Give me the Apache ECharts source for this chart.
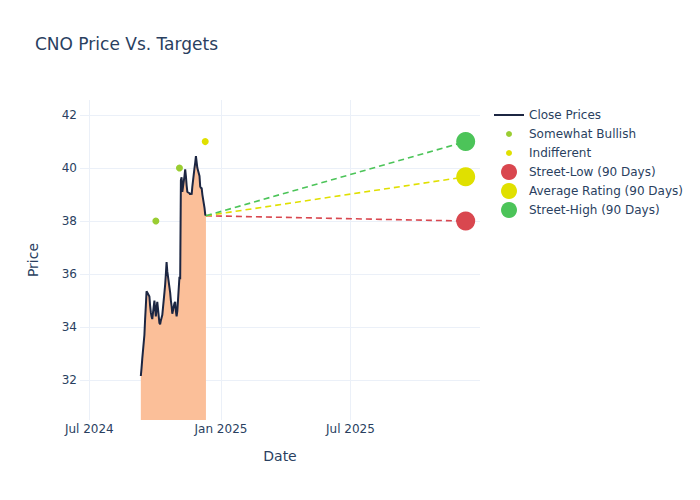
<!DOCTYPE html>
<html>
<head>
<meta charset="utf-8">
<script src="https://cdn.jsdelivr.net/npm/echarts@6/dist/echarts.min.js"></script>
<style>
html,body{margin:0;padding:0;background:#fff;}
#chart{width:700px;height:500px;}
</style>
</head>
<body>
<div id="chart"></div>
<script>
// ---- data ----
const dates = ['2024-09-11','2024-09-12','2024-09-13','2024-09-16','2024-09-17','2024-09-18','2024-09-19','2024-09-20','2024-09-23','2024-09-24','2024-09-25','2024-09-26','2024-09-27','2024-09-30',
'2024-10-01','2024-10-02','2024-10-03','2024-10-04','2024-10-07','2024-10-08','2024-10-09','2024-10-10','2024-10-11','2024-10-14','2024-10-15','2024-10-16','2024-10-17','2024-10-18','2024-10-21','2024-10-22','2024-10-23','2024-10-24','2024-10-25','2024-10-28','2024-10-29','2024-10-30','2024-10-31',
'2024-11-01','2024-11-04','2024-11-05','2024-11-06','2024-11-07','2024-11-08','2024-11-11','2024-11-12','2024-11-13','2024-11-14','2024-11-15','2024-11-18','2024-11-19','2024-11-20','2024-11-21','2024-11-22','2024-11-25','2024-11-26','2024-11-27','2024-11-29',
'2024-12-02','2024-12-03','2024-12-04','2024-12-05','2024-12-06','2024-12-09','2024-12-10','2024-12-11'];
const closes = [32.15,32.45,32.8,33.7,34.3,34.8,35.35,35.3,35.15,34.8,34.55,34.4,34.3,35.0,
34.7,34.4,34.7,34.95,34.15,34.1,34.25,34.35,34.45,35.3,35.6,36.0,36.45,36.1,35.5,35.3,35.0,34.8,34.5,34.9,34.95,34.6,34.4,
34.6,35.9,35.8,39.55,39.65,39.1,39.7,39.95,39.7,39.35,39.1,39.05,39.0,39.05,39.0,39.3,40.0,40.2,40.45,40.0,
39.7,39.3,39.25,39.25,39.0,38.5,38.25,38.2];

const bullishDates = ['2024-10-02','2024-11-04'];
const bullishValues = [38, 40];
const indifferentDates = ['2024-12-10'];
const indifferentValues = [41];

const targetDate = '2025-12-09';
const streetLow = 38;
const averageRating = 39.67;
const streetHigh = 41;

const xTickDates = ['2024-07-01','2025-01-01','2025-07-01'];
const yTicks = [32,34,36,38,40,42];
const xMin = '2024-06-18', xMax = '2025-12-29';
const yMin = 30.49, yMax = 42.57;

// ---- chart ----
const FONT = 'DejaVu Sans';
const TXT = '#2a3f5f';
const GRID = '#ebf0f8';
const months = ['Jan','Feb','Mar','Apr','May','Jun','Jul','Aug','Sep','Oct','Nov','Dec'];
const ts = s => { const p = s.split('-').map(Number); return Date.UTC(p[0], p[1]-1, p[2]); };

const lastDate = dates[dates.length-1];
const lastClose = closes[closes.length-1];

function targetSeries(name, value, color) {
  return {
    name: name, type: 'line',
    data: [
      {value: [ts(lastDate), lastClose], symbol: 'none'},
      {value: [ts(targetDate), value], symbol: 'circle', symbolSize: 19}
    ],
    showSymbol: true,
    lineStyle: {color: color, width: 1.6, type: [6, 4]},
    itemStyle: {color: color},
    z: 3, animation: false, silent: true
  };
}

const legendBase = {orient: 'vertical', padding: 0, itemGap: 0,
  textStyle: {fontFamily: FONT, fontSize: 12, color: TXT}, selectedMode: false};

const option = {
  animation: false,
  backgroundColor: '#fff',
  title: {text: 'CNO Price Vs. Targets', left: 35, top: 35, padding: 0,
    textStyle: {fontFamily: FONT, fontSize: 17, fontWeight: 'normal', color: TXT}},
  grid: {left: 80, right: 220, top: 100, bottom: 80, containLabel: false},
  xAxis: {
    type: 'value', min: ts(xMin), max: ts(xMax),
    name: 'Date', nameLocation: 'middle', nameGap: 29,
    nameTextStyle: {fontFamily: FONT, fontSize: 14, color: TXT},
    axisLine: {show: false},
    axisTick: {show: false, customValues: xTickDates.map(ts)},
    axisLabel: {customValues: xTickDates.map(ts), fontFamily: FONT, fontSize: 12, color: TXT, margin: 3,
      formatter: v => { const d = new Date(v); return months[d.getUTCMonth()] + ' ' + d.getUTCFullYear(); }},
    splitLine: {show: true, lineStyle: {color: GRID, width: 1}}
  },
  yAxis: {
    type: 'value', min: yMin, max: yMax,
    name: 'Price', nameLocation: 'middle', nameGap: 40, nameRotate: 90,
    nameTextStyle: {fontFamily: FONT, fontSize: 14, color: TXT},
    axisLine: {show: false},
    axisTick: {show: false, customValues: yTicks},
    axisLabel: {customValues: yTicks, fontFamily: FONT, fontSize: 12, color: TXT, margin: 3},
    splitLine: {show: true, lineStyle: {color: GRID, width: 1}}
  },
  legend: [
    Object.assign({}, legendBase, {left: 494, top: 109, data: [{name: 'Close Prices', icon: 'rect'}], itemWidth: 30, itemHeight: 2}),
    Object.assign({}, legendBase, {left: 506, top: 128, data: [{name: 'Somewhat Bullish', icon: 'circle'}], itemWidth: 30, itemHeight: 6}),
    Object.assign({}, legendBase, {left: 506, top: 147, data: [{name: 'Indifferent', icon: 'circle'}], itemWidth: 30, itemHeight: 6}),
    Object.assign({}, legendBase, {left: 501, top: 164, data: [{name: 'Street-Low (90 Days)', icon: 'circle'}], itemWidth: 30, itemHeight: 16}),
    Object.assign({}, legendBase, {left: 501, top: 183, data: [{name: 'Average Rating (90 Days)', icon: 'circle'}], itemWidth: 30, itemHeight: 16}),
    Object.assign({}, legendBase, {left: 501, top: 202, data: [{name: 'Street-High (90 Days)', icon: 'circle'}], itemWidth: 30, itemHeight: 16})
  ],
  series: [
    {
      name: 'Close Prices', type: 'line',
      data: dates.map((d, i) => [ts(d), closes[i]]),
      showSymbol: false,
      lineStyle: {color: '#1c2642', width: 2},
      itemStyle: {color: '#1c2642'},
      areaStyle: {color: '#fbbf99', opacity: 1},
      z: 2
    },
    {
      name: 'Somewhat Bullish', type: 'scatter',
      data: bullishDates.map((d, i) => [ts(d), bullishValues[i]]),
      symbolSize: 7, itemStyle: {color: '#9acd32', opacity: 1}, z: 4
    },
    {
      name: 'Indifferent', type: 'scatter',
      data: indifferentDates.map((d, i) => [ts(d), indifferentValues[i]]),
      symbolSize: 7, itemStyle: {color: '#e0e000', opacity: 1}, z: 4
    },
    targetSeries('Street-Low (90 Days)', streetLow, '#d9474f'),
    targetSeries('Average Rating (90 Days)', averageRating, '#e0e000'),
    targetSeries('Street-High (90 Days)', streetHigh, '#4cc459')
  ]
};

const chart = echarts.init(document.getElementById('chart'), null, {renderer: 'svg'});
chart.setOption(option);
</script>
</body>
</html>
